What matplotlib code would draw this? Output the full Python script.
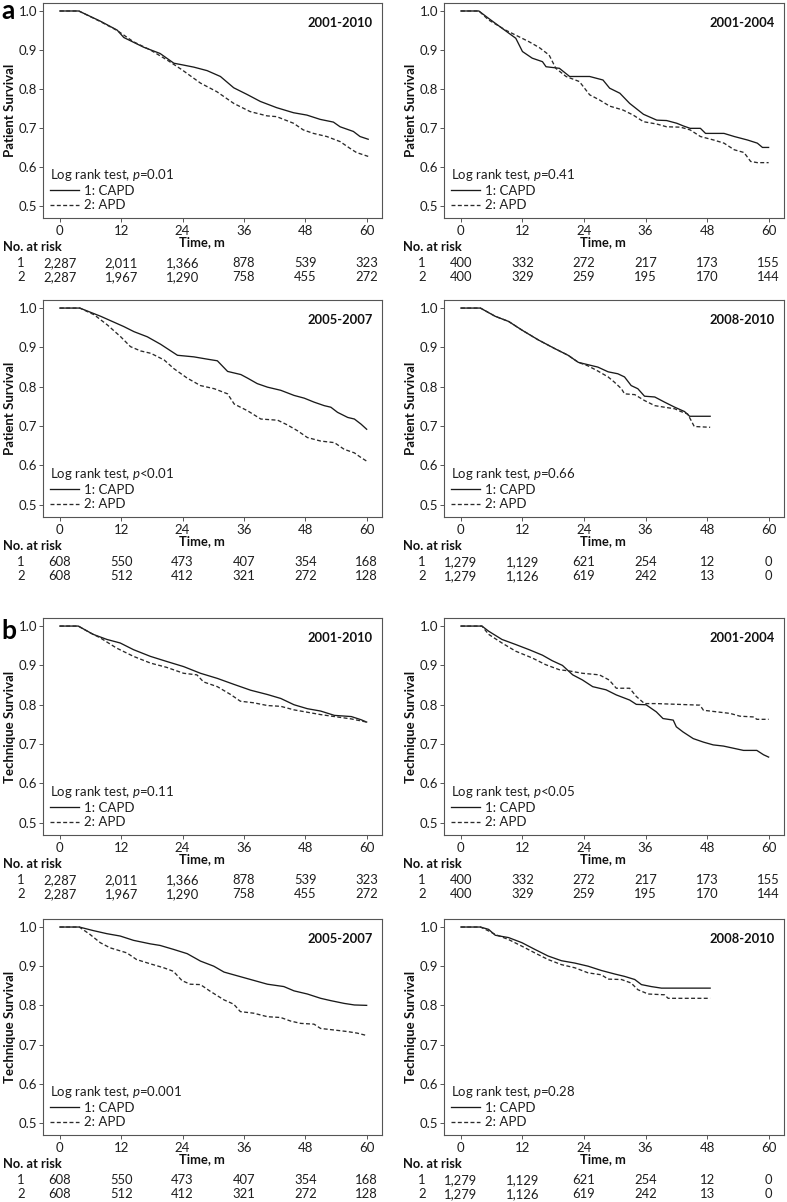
import matplotlib
matplotlib.use('Agg')
import matplotlib.pyplot as plt

plt.rcParams['font.family'] = ['Lato', 'DejaVu Sans']
plt.rcParams['mathtext.fontset'] = 'custom'
plt.rcParams['mathtext.it'] = 'Lato:italic'
plt.rcParams['mathtext.rm'] = 'Lato'
plt.rcParams['mathtext.bf'] = 'Lato:bold'

# ---------------- data ----------------
time_ticks = [0, 12, 24, 36, 48, 60]
group_labels = ['1: CAPD', '2: APD']

# (a) Patient survival 2001-2010
pa1_capd_t = [0, 3.7, 7.9, 11.2, 12.5, 16.4, 19.6, 22.3, 23.9, 26.2, 28.8, 31.4, 34.0, 36.6, 39.2, 42.4, 45.7, 48.3, 50.9, 53.5, 54.8, 57.4, 58.7, 60.3]
pa1_capd_s = [1.0, 1.0, 0.974, 0.951, 0.932, 0.907, 0.891, 0.866, 0.862, 0.856, 0.847, 0.832, 0.803, 0.786, 0.768, 0.752, 0.739, 0.733, 0.722, 0.715, 0.703, 0.691, 0.678, 0.671]
pa1_apd_t = [0, 3.7, 7.9, 11.2, 14.4, 17.7, 21.0, 23.9, 27.5, 30.7, 34.0, 37.2, 40.5, 42.4, 45.7, 47.6, 49.6, 52.2, 54.8, 56.7, 58.0, 60.3]
pa1_apd_s = [1.0, 1.0, 0.973, 0.950, 0.921, 0.900, 0.874, 0.849, 0.815, 0.793, 0.763, 0.742, 0.731, 0.729, 0.712, 0.695, 0.686, 0.678, 0.665, 0.648, 0.637, 0.627]

# (a) Patient survival 2001-2004
pa2_capd_t = [0, 3.5, 5.4, 8.1, 10.7, 12.0, 13.9, 15.9, 16.6, 19.2, 21.2, 25.1, 27.7, 29.0, 31.0, 32.9, 35.6, 38.2, 40.1, 42.1, 43.4, 44.7, 46.7, 47.7, 51.3, 53.3, 55.9, 57.8, 58.8, 60.0]
pa2_capd_s = [1.0, 1.0, 0.981, 0.955, 0.930, 0.896, 0.879, 0.870, 0.857, 0.853, 0.832, 0.832, 0.823, 0.802, 0.789, 0.763, 0.735, 0.720, 0.719, 0.712, 0.705, 0.699, 0.699, 0.686, 0.686, 0.678, 0.669, 0.661, 0.650, 0.650]
pa2_apd_t = [0, 3.5, 5.4, 8.7, 10.7, 13.3, 15.3, 17.2, 18.5, 20.5, 23.1, 25.1, 27.0, 29.0, 31.6, 33.6, 35.6, 38.2, 40.1, 42.8, 44.7, 46.7, 49.3, 51.3, 53.3, 55.2, 56.5, 57.8, 60.0]
pa2_apd_s = [1.0, 1.0, 0.977, 0.951, 0.938, 0.921, 0.906, 0.887, 0.853, 0.832, 0.819, 0.785, 0.772, 0.756, 0.746, 0.733, 0.716, 0.710, 0.703, 0.702, 0.695, 0.678, 0.669, 0.661, 0.644, 0.637, 0.614, 0.611, 0.611]

# (a) Patient survival 2005-2007
pa3_capd_t = [0, 3.9, 8.0, 9.9, 12.5, 14.5, 17.1, 19.7, 21.7, 23.0, 26.2, 28.9, 30.8, 32.8, 35.4, 36.7, 38.6, 40.6, 43.2, 45.8, 47.8, 49.7, 51.7, 53.0, 54.3, 56.3, 57.6, 58.9, 60.0]
pa3_capd_s = [1.0, 1.0, 0.979, 0.968, 0.953, 0.940, 0.927, 0.908, 0.891, 0.880, 0.876, 0.870, 0.866, 0.839, 0.831, 0.822, 0.808, 0.799, 0.791, 0.778, 0.771, 0.761, 0.752, 0.748, 0.735, 0.722, 0.718, 0.705, 0.692]
pa3_apd_t = [0, 3.9, 6.7, 9.3, 11.9, 13.8, 15.8, 17.8, 20.4, 22.3, 24.9, 27.5, 30.2, 32.8, 34.1, 36.7, 39.3, 42.6, 44.5, 46.5, 48.4, 51.0, 53.7, 55.6, 57.6, 58.9, 60.0]
pa3_apd_s = [1.0, 1.0, 0.983, 0.957, 0.927, 0.902, 0.891, 0.885, 0.868, 0.846, 0.822, 0.803, 0.795, 0.782, 0.756, 0.739, 0.718, 0.715, 0.703, 0.688, 0.671, 0.662, 0.658, 0.641, 0.632, 0.620, 0.611]

# (a) Patient survival 2008-2010
pa4_capd_t = [0, 3.8, 6.7, 9.3, 11.9, 15.1, 18.3, 20.9, 22.9, 24.8, 26.7, 28.7, 30.6, 31.9, 33.2, 34.5, 35.8, 37.8, 39.7, 41.7, 43.6, 44.6, 48.6]
pa4_capd_s = [1.0, 1.0, 0.979, 0.966, 0.944, 0.919, 0.897, 0.880, 0.862, 0.856, 0.850, 0.838, 0.833, 0.825, 0.803, 0.795, 0.776, 0.774, 0.761, 0.748, 0.737, 0.725, 0.725]
pa4_apd_t = [0, 3.8, 6.7, 9.3, 11.9, 15.1, 18.3, 20.9, 22.9, 24.8, 26.7, 28.7, 29.9, 31.3, 31.9, 33.9, 35.8, 37.8, 39.7, 41.7, 42.9, 44.2, 44.9, 45.5, 48.6]
pa4_apd_s = [1.0, 1.0, 0.979, 0.966, 0.944, 0.919, 0.897, 0.880, 0.862, 0.853, 0.840, 0.825, 0.812, 0.795, 0.782, 0.780, 0.765, 0.752, 0.748, 0.744, 0.737, 0.731, 0.714, 0.699, 0.697]

# (b) Technique survival 2001-2010
tb1_capd_t = [0, 3.6, 6.5, 9.2, 11.8, 14.4, 17.7, 20.9, 24.2, 27.5, 30.8, 34.0, 37.3, 40.6, 43.2, 45.8, 48.4, 51.0, 53.7, 57.0, 58.9, 60.0]
tb1_capd_s = [1.0, 1.0, 0.979, 0.966, 0.957, 0.940, 0.923, 0.910, 0.897, 0.880, 0.867, 0.852, 0.837, 0.826, 0.816, 0.800, 0.790, 0.784, 0.773, 0.770, 0.762, 0.756]
tb1_apd_t = [0, 3.6, 5.9, 7.9, 11.1, 14.4, 17.7, 20.9, 24.2, 26.8, 28.1, 30.8, 33.4, 35.3, 37.9, 40.6, 43.2, 45.8, 48.4, 51.0, 53.7, 57.0, 60.0]
tb1_apd_s = [1.0, 1.0, 0.983, 0.970, 0.944, 0.923, 0.906, 0.895, 0.880, 0.876, 0.858, 0.846, 0.826, 0.809, 0.805, 0.798, 0.796, 0.787, 0.781, 0.775, 0.770, 0.764, 0.756]

# (b) Technique survival 2001-2004
tb2_capd_t = [0, 4.1, 5.4, 8.0, 10.7, 13.3, 15.9, 17.8, 19.8, 21.8, 23.7, 25.7, 28.3, 30.3, 32.9, 34.2, 36.1, 38.1, 39.4, 41.4, 42.0, 43.3, 45.3, 47.3, 49.2, 51.2, 55.1, 57.7, 59.0, 60.0]
tb2_capd_s = [1.0, 1.0, 0.987, 0.966, 0.953, 0.940, 0.926, 0.912, 0.900, 0.876, 0.863, 0.846, 0.838, 0.825, 0.812, 0.801, 0.800, 0.782, 0.765, 0.761, 0.744, 0.731, 0.714, 0.705, 0.698, 0.695, 0.684, 0.684, 0.673, 0.667]
tb2_apd_t = [0, 4.1, 5.4, 8.0, 10.7, 13.9, 16.5, 19.2, 21.1, 23.7, 27.0, 28.9, 30.3, 32.9, 34.2, 35.8, 38.1, 46.6, 47.3, 49.9, 52.5, 54.4, 57.1, 57.7, 60.0]
tb2_apd_s = [1.0, 1.0, 0.979, 0.957, 0.936, 0.919, 0.902, 0.889, 0.886, 0.880, 0.876, 0.863, 0.842, 0.842, 0.821, 0.803, 0.803, 0.799, 0.786, 0.782, 0.778, 0.771, 0.769, 0.763, 0.763]

# (b) Technique survival 2005-2007
tb3_capd_t = [0, 3.8, 6.5, 9.2, 11.8, 14.4, 17.7, 19.6, 22.2, 24.9, 27.5, 30.1, 32.1, 34.0, 37.3, 40.6, 43.8, 45.8, 48.4, 51.0, 53.0, 55.6, 57.6, 60.0]
tb3_capd_s = [1.0, 1.0, 0.991, 0.983, 0.977, 0.966, 0.957, 0.953, 0.943, 0.932, 0.913, 0.900, 0.885, 0.878, 0.866, 0.854, 0.848, 0.837, 0.829, 0.818, 0.812, 0.805, 0.801, 0.800]
tb3_apd_t = [0, 3.8, 5.9, 7.9, 9.8, 13.1, 15.0, 17.7, 20.3, 22.2, 23.9, 25.5, 27.5, 29.4, 32.1, 34.0, 35.3, 37.9, 40.6, 43.2, 45.1, 47.1, 49.7, 51.0, 53.7, 56.3, 58.2, 60.0]
tb3_apd_s = [1.0, 1.0, 0.981, 0.960, 0.947, 0.934, 0.917, 0.906, 0.896, 0.887, 0.863, 0.854, 0.853, 0.836, 0.814, 0.803, 0.784, 0.780, 0.771, 0.769, 0.760, 0.754, 0.752, 0.741, 0.737, 0.733, 0.729, 0.723]

# (b) Technique survival 2008-2010
tb4_capd_t = [0, 3.8, 5.4, 6.7, 9.3, 11.9, 14.4, 17.0, 19.6, 22.2, 24.8, 27.4, 30.0, 31.9, 33.9, 35.2, 37.1, 39.1, 48.6]
tb4_capd_s = [1.0, 1.0, 0.994, 0.979, 0.973, 0.960, 0.943, 0.926, 0.914, 0.908, 0.900, 0.889, 0.880, 0.874, 0.866, 0.853, 0.848, 0.844, 0.844]
tb4_apd_t = [0, 3.8, 5.4, 6.7, 9.3, 11.9, 14.4, 17.0, 19.6, 22.2, 24.8, 27.4, 28.7, 31.3, 33.2, 34.5, 36.5, 39.7, 40.4, 48.6]
tb4_apd_s = [1.0, 1.0, 0.990, 0.981, 0.968, 0.951, 0.934, 0.917, 0.904, 0.896, 0.883, 0.878, 0.867, 0.866, 0.857, 0.840, 0.829, 0.827, 0.818, 0.818]

# numbers at risk (at 0, 12, 24, 36, 48, 60 months)
risk_0110_capd = [2287, 2011, 1366, 878, 539, 323]
risk_0110_apd = [2287, 1967, 1290, 758, 455, 272]
risk_0104_capd = [400, 332, 272, 217, 173, 155]
risk_0104_apd = [400, 329, 259, 195, 170, 144]
risk_0507_capd = [608, 550, 473, 407, 354, 168]
risk_0507_apd = [608, 512, 412, 321, 272, 128]
risk_0810_capd = [1279, 1129, 621, 254, 12, 0]
risk_0810_apd = [1279, 1126, 619, 242, 13, 0]

periods = ['2001-2010', '2001-2004', '2005-2007', '2008-2010']
pvals_patient = ['=0.01', '=0.41', '<0.01', '=0.66']
pvals_technique = ['=0.11', '<0.05', '=0.001', '=0.28']

# ---------------- layout ----------------
W, H = 787, 1202
fig = plt.figure(figsize=(W / 100, H / 100), dpi=100)

col_px = [(43, 382), (444, 784)]
row_px = [(3, 218), (300, 517), (618, 835), (919, 1135)]

panels = [
    ('Patient Survival', periods[0], pvals_patient[0], (pa1_capd_t, pa1_capd_s), (pa1_apd_t, pa1_apd_s), risk_0110_capd, risk_0110_apd),
    ('Patient Survival', periods[1], pvals_patient[1], (pa2_capd_t, pa2_capd_s), (pa2_apd_t, pa2_apd_s), risk_0104_capd, risk_0104_apd),
    ('Patient Survival', periods[2], pvals_patient[2], (pa3_capd_t, pa3_capd_s), (pa3_apd_t, pa3_apd_s), risk_0507_capd, risk_0507_apd),
    ('Patient Survival', periods[3], pvals_patient[3], (pa4_capd_t, pa4_capd_s), (pa4_apd_t, pa4_apd_s), risk_0810_capd, risk_0810_apd),
    ('Technique Survival', periods[0], pvals_technique[0], (tb1_capd_t, tb1_capd_s), (tb1_apd_t, tb1_apd_s), risk_0110_capd, risk_0110_apd),
    ('Technique Survival', periods[1], pvals_technique[1], (tb2_capd_t, tb2_capd_s), (tb2_apd_t, tb2_apd_s), risk_0104_capd, risk_0104_apd),
    ('Technique Survival', periods[2], pvals_technique[2], (tb3_capd_t, tb3_capd_s), (tb3_apd_t, tb3_apd_s), risk_0507_capd, risk_0507_apd),
    ('Technique Survival', periods[3], pvals_technique[3], (tb4_capd_t, tb4_capd_s), (tb4_apd_t, tb4_apd_s), risk_0810_capd, risk_0810_apd),
]

PX = 0.72  # points per pixel at 100 dpi
FS = 9.5
RFS = 9.4
spine_col = '#555555'
txt_col = '#1e1e1e'


def below(ax, x, px, text, **kw):
    ax.annotate(text, xy=(x, 0), xycoords=('data', 'axes fraction'),
                xytext=(0, -px * PX), textcoords='offset points',
                va='center', annotation_clip=False, **kw)


for i, (ylab, period, pv, capd, apd, r1, r2) in enumerate(panels):
    r, c = divmod(i, 2)
    x0, x1 = col_px[c]
    y0, y1 = row_px[r]
    ax = fig.add_axes([x0 / W, 1 - y1 / H, (x1 - x0) / W, (y1 - y0) / H])

    l1, = ax.plot(capd[0], capd[1], color='#1a1a1a', lw=0.95)
    l2, = ax.plot(apd[0], apd[1], color='#2a2a2a', lw=0.95, dashes=(3.0, 1.8))

    ax.set_xlim(-3.3, 63.0)
    ax.set_ylim(0.469, 1.0205)
    ax.set_xticks(time_ticks)
    ax.set_yticks([0.5, 0.6, 0.7, 0.8, 0.9, 1.0])
    ax.set_yticklabels([f'{v:.1f}' for v in [0.5, 0.6, 0.7, 0.8, 0.9, 1.0]])
    ax.tick_params(axis='both', direction='out', length=3, width=0.7,
                   color=spine_col, labelsize=FS, labelcolor=txt_col)
    ax.tick_params(axis='x', pad=1.8)
    ax.tick_params(axis='y', pad=1.3)
    for s in ax.spines.values():
        s.set_color(spine_col)
        s.set_linewidth(0.8)

    ax.set_ylabel(ylab, fontsize=9.5, fontweight='bold', labelpad=2, color='#111111')

    ax.text(0.973, 0.907, period, transform=ax.transAxes, ha='right', va='center',
            fontsize=9.3, fontweight='bold', color='#111111')

    leg = ax.legend([l1, l2], group_labels, title=f'Log rank test, $p${pv}',
                    loc='lower left', frameon=False, fontsize=FS, title_fontsize=FS,
                    alignment='left', handlelength=2.2, handletextpad=0.4,
                    labelspacing=0.18, borderaxespad=0.3, borderpad=0.2)
    for t in leg.get_texts():
        t.set_color(txt_col)
    leg.get_title().set_color(txt_col)

    # x label and risk table
    below(ax, 27.7, 24, 'Time, m', ha='center', fontsize=9.3, fontweight='bold', color='#111111')
    below(ax, -11.2, 29, 'No. at risk', ha='left', fontsize=9.3, fontweight='bold', color='#111111')
    below(ax, -7.6, 45, '1', ha='center', fontsize=RFS, color=txt_col)
    below(ax, -7.6, 59, '2', ha='center', fontsize=RFS, color=txt_col)
    for tt, n1, n2 in zip(time_ticks, r1, r2):
        below(ax, tt, 45, f'{n1:,}', ha='center', fontsize=RFS, color=txt_col)
        below(ax, tt, 59, f'{n2:,}', ha='center', fontsize=RFS, color=txt_col)

fig.text(1 / W, 1 - 19 / H, 'a', fontsize=19, fontweight='bold', ha='left', va='baseline')
fig.text(1 / W, 1 - 639 / H, 'b', fontsize=19, fontweight='bold', ha='left', va='baseline')

fig.savefig('out.png', dpi=100)
